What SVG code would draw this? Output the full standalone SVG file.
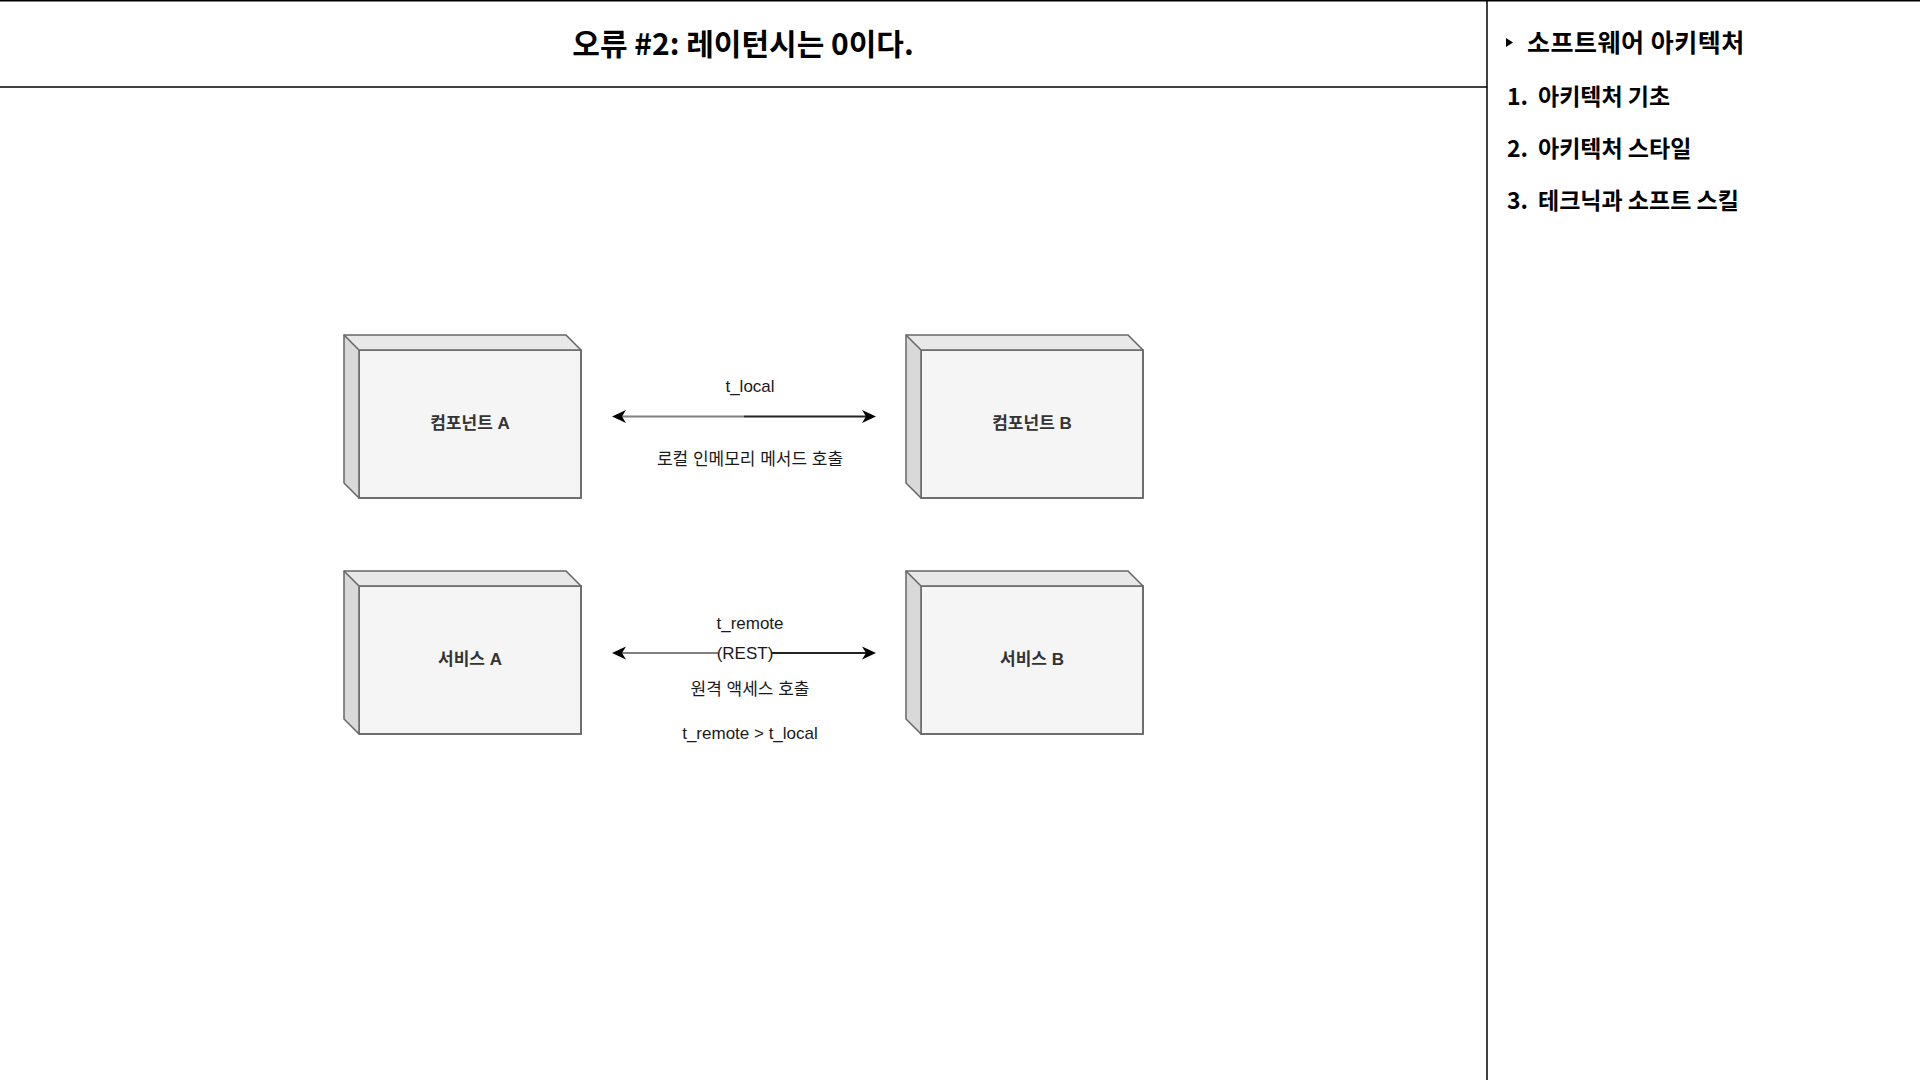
<svg xmlns="http://www.w3.org/2000/svg" width="1920" height="1080" viewBox="0 0 1920 1080">
  <defs>
    <style>
      .frame { stroke: #000; stroke-width: 1.5; fill: none; }
      .title { font-family: "Noto Sans CJK KR", "Liberation Sans", sans-serif; font-weight: 700; font-size: 30px; fill: #000; }
      .toc { font-family: "Noto Sans CJK KR", "Liberation Sans", sans-serif; font-weight: 700; font-size: 23px; fill: #000; }
      .toc-head { font-size: 25px; letter-spacing: 0.5px; }
      .cube-outline { fill: #f5f5f5; stroke: #666; stroke-width: 1.5; stroke-linejoin: miter; }
      .cube-top { fill: #e8e8e8; stroke: none; }
      .cube-side { fill: #d9d9d9; stroke: none; }
      .cube-edge { fill: none; stroke: #666; stroke-width: 1.5; }
      .node-label { font-family: "Liberation Sans", "Noto Sans CJK KR", sans-serif; font-weight: 700; font-size: 17px; fill: #333; text-anchor: middle; }
      .edge-label { font-family: "Liberation Sans", "Noto Sans CJK KR", sans-serif; font-size: 17px; fill: #1a1a1a; text-anchor: middle; }
      .link-light { fill: none; stroke: #808080; stroke-width: 2; }
      .link-dark { fill: none; stroke: #222; stroke-width: 2; }
      .tip { fill: #000; }
    </style>
    <!-- 3D box: front face 222x148, depth 15 -->
    <g id="cube">
      <path class="cube-outline" d="M0,0 H222 V148 H0 Z"/>
      <path class="cube-top" d="M-15,-15 H207 L222,0 H0 Z"/>
      <path class="cube-side" d="M-15,-15 L0,0 V148 L-15,133 Z"/>
      <path class="cube-edge" d="M-15,-15 H207 L222,0 V148 H0 L-15,133 Z"/>
      <path class="cube-edge" d="M-15,-15 L0,0 H222 M0,0 V148"/>
    </g>
    <!-- double-ended arrow, 264 long, starting at the origin -->
    <g id="double-arrow">
      <line class="link-light" x1="8" y1="0" x2="132" y2="0"/>
      <line class="link-dark" x1="132" y1="0" x2="256" y2="0"/>
      <path class="tip" d="M0,0 L14,-6.5 L10,0 L14,6.5 Z"/>
      <path class="tip" d="M264,0 L250,-6.5 L254,0 L250,6.5 Z"/>
    </g>
  </defs>

  <rect x="0" y="0" width="1920" height="1080" fill="#fff"/>

  <!-- page frame -->
  <g id="frame">
    <line class="frame" x1="0" y1="0.75" x2="1920" y2="0.75"/>
    <line class="frame" x1="0" y1="87" x2="1487" y2="87"/>
    <line class="frame" x1="1487" y1="0" x2="1487" y2="1080"/>
  </g>

  <g id="title">
    <text class="title" x="743" y="55" text-anchor="middle">오류 #2: 레이턴시는 0이다.</text>
  </g>

  <!-- table of contents -->
  <g id="toc">
    <path d="M1506,38 L1513,42.5 L1506,47 Z" fill="#000"/>
    <text class="toc toc-head" x="1527" y="52">소프트웨어 아키텍처</text>
    <text class="toc" x="1507" y="105">1.</text>
    <text class="toc" x="1538" y="105">아키텍처 기초</text>
    <text class="toc" x="1507" y="157">2.</text>
    <text class="toc" x="1538" y="157">아키텍처 스타일</text>
    <text class="toc" x="1507" y="209">3.</text>
    <text class="toc" x="1538" y="209">테크닉과 소프트 스킬</text>
  </g>

  <!-- nodes -->
  <g id="component-a">
    <use href="#cube" x="359" y="350"/>
    <text class="node-label" x="470" y="429">컴포넌트 A</text>
  </g>
  <g id="component-b">
    <use href="#cube" x="921" y="350"/>
    <text class="node-label" x="1032" y="429">컴포넌트 B</text>
  </g>
  <g id="service-a">
    <use href="#cube" x="359" y="586"/>
    <text class="node-label" x="470" y="665">서비스 A</text>
  </g>
  <g id="service-b">
    <use href="#cube" x="921" y="586"/>
    <text class="node-label" x="1032" y="665">서비스 B</text>
  </g>

  <!-- connectors -->
  <g id="connectors">
    <g id="local-call">
      <use href="#double-arrow" x="612" y="416.5"/>
      <text class="edge-label" x="750" y="392">t_local</text>
      <text class="edge-label" x="750" y="465">로컬 인메모리 메서드 호출</text>
    </g>
    <g id="remote-call">
      <use href="#double-arrow" x="612" y="653"/>
      <rect x="718" y="643" width="54" height="20" fill="#fff"/>
      <text class="edge-label" x="745" y="659">(REST)</text>
      <text class="edge-label" x="750" y="629">t_remote</text>
      <text class="edge-label" x="750" y="695">원격 액세스 호출</text>
      <text class="edge-label" x="750" y="739">t_remote &gt; t_local</text>
    </g>
  </g>
</svg>
